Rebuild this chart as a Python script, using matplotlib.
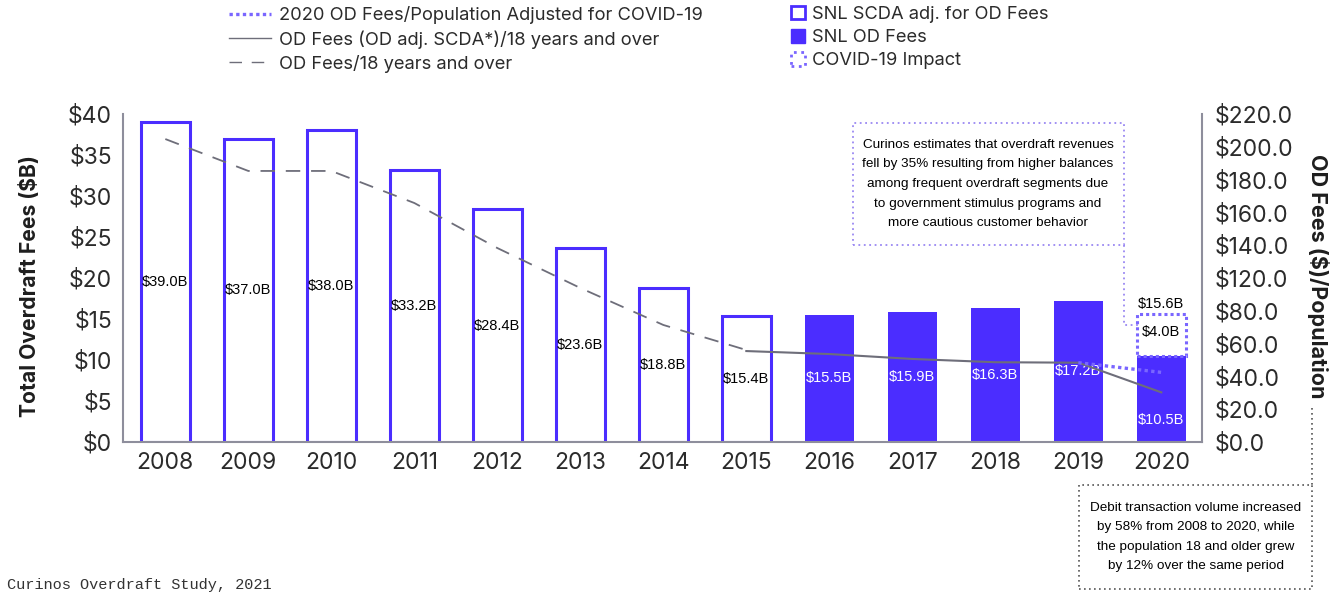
import numpy as np
import matplotlib
matplotlib.use("Agg")
import matplotlib.pyplot as plt
from matplotlib import font_manager
from matplotlib.lines import Line2D
from matplotlib.patches import Patch, Rectangle

# yearly overdraft fee totals ($B)
years = ["2008", "2009", "2010", "2011", "2012", "2013", "2014",
         "2015", "2016", "2017", "2018", "2019", "2020"]
scda_adj_fees = [39.0, 37.0, 38.0, 33.2, 28.4, 23.6, 18.8, 15.4]   # 2008-2015
snl_od_fees = [15.5, 15.9, 16.3, 17.2, 10.5]                      # 2016-2020
covid_total_2020 = 15.6
covid_impact_label = "$4.0B"

# fees per adult, drawn against the right axis
fees_per_adult = [203.2, 181.8, 181.8, 160.3, 130.1, 103.3, 78.5, 61.7]   # 2008-2015
fees_adj_per_adult = [61.0, 59.0, 55.7, 53.5, 53.2, 33.3]                 # 2015-2020
covid_adj_per_adult = [53.2, 46.7]                                        # 2019-2020

left_ticks = [0, 5, 10, 15, 20, 25, 30, 35, 40]
right_tick_labels = ["$0.0", "$20.0", "$40.0", "$60.0", "$80.0", "$120.0",
                     "$140.0", "$160.0", "$180.0", "$200.0", "$220.0"]

PURPLE = "#4b2dff"
PURPLE_DOT = "#7a66ff"
LAVENDER = "#9a88f2"
GRAY = "#6e6e7a"
SPINE = "#8e8e9c"
TEXT = "#2b2b2b"

installed = {f.name for f in font_manager.fontManager.ttflist}
NARROW = "Liberation Sans Narrow" if "Liberation Sans Narrow" in installed else "Liberation Sans"
MAIN = "Inter" if "Inter" in installed else "Lato"

W, H = 1338, 592
fig = plt.figure(figsize=(W / 100, H / 100), dpi=100)


def fx(px):
    return px / W


def fy(py):
    return 1 - py / H


ax = fig.add_axes([fx(123), fy(442), fx(1202) - fx(123), fy(114) - fy(442)])
x = np.arange(len(years))
bw = 0.59

ax.bar(x[:8], scda_adj_fees, width=bw, facecolor="white",
       edgecolor=PURPLE, linewidth=2.2, zorder=2)
ax.bar(x[8:], snl_od_fees, width=bw, color=PURPLE, zorder=2)
ax.bar(x[12], covid_total_2020 - snl_od_fees[-1], bottom=snl_od_fees[-1],
       width=bw, fill=False, edgecolor=PURPLE_DOT, linewidth=2.2,
       linestyle=(0, (1, 1)), zorder=3)

values = scda_adj_fees + snl_od_fees
for i, v in enumerate(values):
    col = "black" if i < 8 else "white"
    ypos = v / 2 if i < 12 else v / 4
    ax.text(x[i], ypos, f"${v:.1f}B", ha="center", va="center",
            color=col, fontsize=10.5, family=NARROW, zorder=4)
ax.text(x[12], covid_total_2020 + 0.4, f"${covid_total_2020:.1f}B", ha="center",
        va="bottom", fontsize=10.5, family=NARROW, color="black")
ax.text(x[12], (covid_total_2020 + snl_od_fees[-1]) / 2 + 0.4, covid_impact_label,
        ha="center", va="center", fontsize=10.5, family=NARROW, color="black")

ax.set_xlim(-0.51, 12.49)
ax.set_ylim(0, 40)
ax.set_xticks(x)
ax.set_xticklabels(years)
ax.set_yticks(left_ticks)
ax.set_yticklabels([f"${t}" for t in left_ticks])
ax.tick_params(axis="both", length=0, labelsize=16.5, colors=TEXT)
ax.tick_params(axis="y", pad=8)
ax.tick_params(axis="x", pad=7)
for lab in ax.get_xticklabels() + ax.get_yticklabels():
    lab.set_family(MAIN)
ax.spines["top"].set_visible(False)
ax.spines["right"].set_visible(False)
for s in ("left", "bottom"):
    ax.spines[s].set_color(SPINE)
    ax.spines[s].set_linewidth(1.5)

ax2 = ax.twinx()
ax2.set_ylim(0, 220)
ax2.set_yticks(np.linspace(0, 220, len(right_tick_labels)))
ax2.set_yticklabels(right_tick_labels)
ax2.tick_params(axis="y", length=0, labelsize=16.5, colors=TEXT, pad=9)
for lab in ax2.get_yticklabels():
    lab.set_family(MAIN)
for s in ("left", "top", "bottom"):
    ax2.spines[s].set_visible(False)
ax2.spines["right"].set_color(SPINE)
ax2.spines["right"].set_linewidth(1.5)

ax2.plot(x[:8], fees_per_adult, color=GRAY, lw=1.3, dashes=(8, 6))
ax2.plot(x[7:], fees_adj_per_adult, color=GRAY, lw=1.5)
ax2.plot(x[11:], covid_adj_per_adult, color=PURPLE_DOT, lw=2.4,
         linestyle=(0, (1, 1)))

# axis titles
fig.text(fx(30), fy(286), "Total Overdraft Fees ($B)", rotation=90,
         ha="center", va="center", fontsize=15.2, fontweight="bold",
         family=MAIN, color="#1e1e1e")
fig.text(fx(1318), fy(276), "OD Fees ($)/Population", rotation=-90,
         ha="center", va="center", fontsize=15.5, fontweight="bold",
         family=MAIN, color="#1e1e1e")

# legends
line_handles = [
    Line2D([], [], color=PURPLE_DOT, lw=2.4, linestyle=(0, (1, 1))),
    Line2D([], [], color=GRAY, lw=1.0),
    Line2D([], [], color=GRAY, lw=1.0, dashes=(9, 7)),
]
line_labels = ["2020 OD Fees/Population Adjusted for COVID-19",
               "OD Fees (OD adj. SCDA*)/18 years and over",
               "OD Fees/18 years and over"]
bar_handles = [
    Patch(facecolor="white", edgecolor=PURPLE, lw=2),
    Patch(facecolor=PURPLE, edgecolor=PURPLE),
    Patch(facecolor="white", edgecolor=PURPLE_DOT, lw=2, linestyle=":"),
]
bar_labels = ["SNL SCDA adj. for OD Fees", "SNL OD Fees", "COVID-19 Impact"]

leg_kw = dict(frameon=False, borderpad=0, borderaxespad=0,
              labelspacing=0.33, prop={"family": MAIN, "size": 13.2},
              labelcolor=TEXT)
fig.legend(line_handles, line_labels, loc="upper left",
           bbox_to_anchor=(fx(229), fy(6)), handlelength=2.3,
           handletextpad=0.45, **leg_kw)
fig.legend(bar_handles, bar_labels, loc="upper left",
           bbox_to_anchor=(fx(791), fy(6)), handlelength=0.75,
           handleheight=0.75, handletextpad=0.4, **leg_kw)

# COVID note box
fig.add_artist(Rectangle((fx(853), fy(245)), fx(1124) - fx(853), fy(123) - fy(245),
                         transform=fig.transFigure, fill=False,
                         edgecolor=LAVENDER, lw=1.3, linestyle=(0, (1, 2))))
fig.add_artist(Line2D([fx(1124), fx(1124), fx(1138)], [fy(245), fy(325), fy(325)],
                      transform=fig.transFigure, color=LAVENDER, lw=1.3,
                      linestyle=(0, (1, 2))))
fig.text(fx(988), fy(184),
         "Curinos estimates that overdraft revenues\n"
         "fell by 35% resulting from higher balances\n"
         "among frequent overdraft segments due\n"
         "to government stimulus programs and\n"
         "more cautious customer behavior",
         ha="center", va="center", fontsize=9.7, family=NARROW,
         color="black", linespacing=1.85)

# debit volume note box
fig.add_artist(Rectangle((fx(1079), fy(589)), fx(1312) - fx(1079), fy(485) - fy(589),
                         transform=fig.transFigure, fill=False,
                         edgecolor="#555555", lw=1.2, linestyle=(0, (1, 2))))
fig.add_artist(Line2D([fx(1312), fx(1312)], [fy(408), fy(485)],
                      transform=fig.transFigure, color="#555555", lw=1.2,
                      linestyle=(0, (1, 2))))
fig.text(fx(1196), fy(537),
         "Debit transaction volume increased\n"
         "by 58% from 2008 to 2020, while\n"
         "the population 18 and older grew\n"
         "by 12% over the same period",
         ha="center", va="center", fontsize=9.7, family=NARROW,
         color="black", linespacing=1.8)

fig.text(fx(7), fy(589), "Curinos Overdraft Study, 2021", ha="left",
         va="baseline", fontsize=11, family="Liberation Mono", color="#333333")

fig.savefig("out.png", dpi=100)
